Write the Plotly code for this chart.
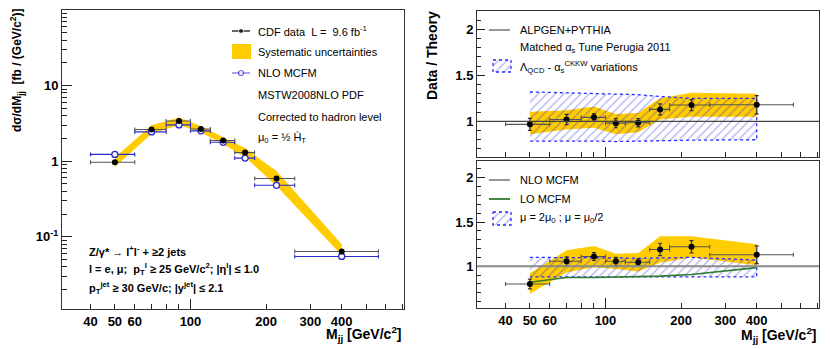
import math
import plotly.graph_objects as go

# Mjj bins [GeV/c^2]
mjj = [50, 70, 90, 110, 135, 165, 220, 400]
bin_lo = [40, 60, 80, 100, 120, 150, 180, 260]
bin_hi = [60, 80, 100, 120, 150, 180, 260, 560]

# dsigma/dMjj [fb/(GeV/c^2)]
xs_data = [0.97, 2.63, 3.41, 2.67, 1.88, 1.30, 0.59, 0.064]
xs_stat = [0.03, 0.06, 0.07, 0.06, 0.04, 0.03, 0.015, 0.003]
xs_syst_lo = [0.84, 2.30, 3.02, 2.42, 1.68, 1.14, 0.47, 0.057]
xs_syst_hi = [1.12, 2.98, 3.80, 2.92, 2.08, 1.49, 0.74, 0.080]
xs_mcfm = [1.23, 2.44, 3.02, 2.52, 1.78, 1.10, 0.48, 0.055]

# data / ALPGEN+PYTHIA
r_alp = [0.967, 1.02, 1.043, 0.98, 0.985, 1.13, 1.177, 1.18]
r_alp_err = [0.065, 0.055, 0.04, 0.05, 0.045, 0.06, 0.06, 0.10]
r_alp_syst_lo = [0.86, 0.91, 0.93, 0.86, 0.88, 1.02, 1.05, 1.05]
r_alp_syst_hi = [1.105, 1.12, 1.16, 1.08, 1.09, 1.25, 1.31, 1.30]
alp_var_lo = [0.785, 0.785, 0.785, 0.78, 0.785, 0.79, 0.795, 0.80]
alp_var_hi = [1.32, 1.31, 1.30, 1.30, 1.29, 1.27, 1.25, 1.25]

# data / NLO MCFM
r_nlo = [0.80, 1.056, 1.11, 1.056, 1.045, 1.19, 1.22, 1.13]
r_nlo_err = [0.055, 0.05, 0.045, 0.045, 0.04, 0.07, 0.07, 0.10]
r_nlo_syst_lo = [0.69, 0.93, 0.99, 0.97, 0.94, 1.04, 1.10, 1.01]
r_nlo_syst_hi = [0.92, 1.18, 1.23, 1.14, 1.15, 1.34, 1.34, 1.25]
scale_lo = [0.88, 0.88, 0.88, 0.88, 0.88, 0.88, 0.88, 0.88]
scale_hi = [1.10, 1.10, 1.10, 1.095, 1.09, 1.095, 1.10, 1.07]
lo_mcfm = [0.82, 0.873, 0.873, 0.876, 0.88, 0.888, 0.906, 0.985]

# the page body has an 8px margin, so the figure is sized to fit the 830x349 window
OFF = 8
W, H = 830 - OFF, 349 - OFF
FONT = "Liberation Sans"
YELLOW = "#ffcc00"
HATCH = dict(shape="/", fgcolor="rgba(30,30,230,0.35)", bgcolor="rgba(0,0,0,0)", size=6, solidity=0.22)
HATCH_LINE = dict(color="#2a2aff", width=1.3, dash="dot")

ex_plus = [h - m for h, m in zip(bin_hi, mjj)]
ex_minus = [m - l for m, l in zip(mjj, bin_lo)]


# positions below are given in window pixels
def px(x):
    return (x - OFF) / W


def py(y):
    return 1 - (y - OFF) / H


def band(lo, hi, xa, ya, **kw):
    return go.Scatter(x=mjj + mjj[::-1], y=hi + lo[::-1], xaxis=xa, yaxis=ya,
                      mode="lines", fill="toself", hoverinfo="skip", showlegend=False, **kw)


def ratio_pts(r, err, xa, ya):
    return go.Scatter(x=mjj, y=r, xaxis=xa, yaxis=ya, mode="markers", showlegend=False,
                      marker=dict(color="black", size=6),
                      error_x=dict(type="data", symmetric=False, array=ex_plus, arrayminus=ex_minus,
                                   color="#555", thickness=1.1, width=2),
                      error_y=dict(type="data", array=err, color="#333", thickness=1.2, width=2))


fig = go.Figure()

# ---- left: cross section
fig.add_trace(band(xs_syst_lo, xs_syst_hi, "x", "y", fillcolor=YELLOW, line=dict(width=0)))
fig.add_trace(go.Scatter(x=mjj, y=xs_mcfm, mode="markers", showlegend=False,
                         marker=dict(color="white", size=6, line=dict(color="#2a2acc", width=1.3)),
                         error_x=dict(type="data", symmetric=False, array=ex_plus, arrayminus=ex_minus,
                                      color="#2a2acc", thickness=1.1, width=2)))
fig.add_trace(go.Scatter(x=mjj, y=xs_data, mode="markers", showlegend=False,
                         marker=dict(color="black", size=6),
                         error_x=dict(type="data", symmetric=False, array=ex_plus, arrayminus=ex_minus,
                                      color="#555", thickness=1.1, width=2),
                         error_y=dict(type="data", array=xs_stat, color="#222", thickness=1.2, width=0)))

# ---- top right: data / ALPGEN
fig.add_trace(band(r_alp_syst_lo, r_alp_syst_hi, "x2", "y2", fillcolor=YELLOW, line=dict(width=0)))
fig.add_trace(band(alp_var_lo, alp_var_hi, "x2", "y2", fillcolor="rgba(0,0,0,0)",
                   fillpattern=HATCH, line=HATCH_LINE))
fig.add_trace(ratio_pts(r_alp, r_alp_err, "x2", "y2"))

# ---- bottom right: data / NLO MCFM
fig.add_trace(band(r_nlo_syst_lo, r_nlo_syst_hi, "x3", "y3", fillcolor=YELLOW, line=dict(width=0)))
fig.add_trace(band(scale_lo, scale_hi, "x3", "y3", fillcolor="rgba(0,0,0,0)",
                   fillpattern=HATCH, line=HATCH_LINE))
fig.add_trace(go.Scatter(x=mjj, y=lo_mcfm, xaxis="x3", yaxis="y3", mode="lines", showlegend=False,
                         line=dict(color="#2e7d2e", width=1.6)))
fig.add_trace(ratio_pts(r_nlo, r_nlo_err, "x3", "y3"))

# invisible traces so the overlay tick axes get drawn
for xa, ya, yv in (("x4", "y", xs_data), ("x5", "y2", r_alp), ("x6", "y3", r_nlo)):
    fig.add_trace(go.Scatter(x=mjj, y=yv, xaxis=xa, yaxis=ya, mode="markers", hoverinfo="skip",
                             showlegend=False, marker=dict(opacity=0)))


# ---- legend keys, drawn in window pixels on a hidden full-page axis
def key_line(x0, x1, y, color, width=1.2, marker=None):
    fig.add_trace(go.Scatter(x=[x0, (x0 + x1) / 2, x1], y=[y, y, y], xaxis="x7", yaxis="y7",
                             mode="lines+markers" if marker else "lines", hoverinfo="skip",
                             showlegend=False, line=dict(color=color, width=width),
                             marker=marker if marker else dict(size=0)))


def key_box(x0, x1, y0, y1, **kw):
    fig.add_trace(go.Scatter(x=[x0, x1, x1, x0, x0], y=[y0, y0, y1, y1, y0], xaxis="x7", yaxis="y7",
                             mode="lines", fill="toself", hoverinfo="skip", showlegend=False, **kw))


key_line(232, 250, 31, "black", marker=dict(size=[0, 5, 0], color="black"))
key_box(232, 251, 44, 59, fillcolor=YELLOW, line=dict(width=0))
key_line(232, 250, 73, "#6a6ae0", marker=dict(size=[0, 5, 0], color="white", line=dict(color="#2a2acc", width=1.2)))
key_line(489, 510, 30, "#333", width=1)
key_box(493, 511, 60, 72, fillcolor="rgba(0,0,0,0)", fillpattern=HATCH, line=HATCH_LINE)
key_line(489, 510, 180, "#333", width=1)
key_line(489, 510, 199, "#2e7d2e", width=1.8)
key_box(493, 511, 212, 225, fillcolor="rgba(0,0,0,0)", fillpattern=HATCH, line=HATCH_LINE)

# ---- axes
tickfont = dict(family=FONT, size=13, color="black", weight="bold")
xrange = [math.log10(30.8), math.log10(708)]
xmajor = [40, 50, 60, 100, 200, 300, 400]
xminor = [70, 80, 90, 500, 600, 700]
frame = dict(showline=True, mirror=True, linecolor="#333", linewidth=1, showgrid=False,
             zeroline=False, automargin=False)


def xaxis_cfg(domain, anchor, labels):
    return dict(type="log", range=xrange, domain=domain, anchor=anchor, tickmode="array",
                tickvals=xmajor, ticktext=[str(v) for v in xmajor], showticklabels=labels,
                ticks="inside", ticklen=5, tickcolor="#222", tickfont=tickfont,
                minor=dict(tickmode="array", tickvals=xminor, ticks="inside", ticklen=5, tickcolor="#222"),
                **frame)


def xlong_cfg(over, anchor):
    return dict(type="log", range=xrange, overlaying=over, anchor=anchor, side="bottom",
                tickmode="array", tickvals=[100], ticks="inside", ticklen=10, tickcolor="#222",
                showticklabels=False, showgrid=False, zeroline=False, showline=False, automargin=False)


def ratio_y(domain, anchor, yr):
    return dict(range=yr, domain=domain, anchor=anchor, tick0=0, dtick=0.5, ticks="inside",
                ticklen=8, tickcolor="#222", tickfont=tickfont,
                minor=dict(dtick=0.1, tick0=0, ticks="inside", ticklen=4, tickcolor="#222"), **frame)


ylog_minor = [k * 10 ** d for d in range(-2, 2) for k in range(2, 10)]

dom_l = [px(62), px(404)]
dom_r = [px(477), px(819)]

fig.update_layout(
    template="none",
    width=W, height=H,
    margin=dict(l=0, r=0, t=0, b=0, pad=0),
    paper_bgcolor="white", plot_bgcolor="rgba(0,0,0,0)",
    showlegend=False,
    font=dict(family=FONT, size=11, color="black"),
    xaxis=xaxis_cfg(dom_l, "y", True),
    yaxis=dict(type="log", range=[math.log10(0.0111), 2], domain=[py(309), py(10)], anchor="x",
               tickmode="array", tickvals=[0.1, 1, 10, 100],
               ticktext=["10<sup>-1</sup>", "1", "10", "10<sup>2</sup>"],
               ticks="inside", ticklen=10, tickcolor="#222", tickfont=tickfont,
               minor=dict(tickmode="array", tickvals=ylog_minor, ticks="inside", ticklen=5, tickcolor="#222"),
               **frame),
    xaxis2=xaxis_cfg(dom_r, "y2", False),
    yaxis2=ratio_y([py(157), py(11)], "x2", [0.612, 2.2]),
    xaxis3=xaxis_cfg(dom_r, "y3", True),
    yaxis3=ratio_y([py(308), py(161)], "x3", [0.528, 2.19]),
    xaxis4=xlong_cfg("x", "y"),
    xaxis5=xlong_cfg("x2", "y2"),
    xaxis6=xlong_cfg("x3", "y3"),
    xaxis7=dict(domain=[0, 1], range=[OFF, OFF + W], anchor="y7", visible=False, fixedrange=True, automargin=False),
    yaxis7=dict(domain=[0, 1], range=[OFF + H, OFF], anchor="x7", visible=False, fixedrange=True, automargin=False),
)

# reference lines at ratio = 1
fig.add_shape(type="line", xref="x2 domain", x0=0, x1=1, yref="y2", y0=1, y1=1,
              line=dict(color="#444", width=1.1), layer="above")
fig.add_shape(type="line", xref="x3 domain", x0=0, x1=1, yref="y3", y0=1, y1=1,
              line=dict(color="#8a8a8a", width=1.8), layer="above")

# ---- texts
bold14 = dict(family=FONT, size=14, color="black", weight="bold")
bold12 = dict(family=FONT, size=12, color="black", weight="bold")
reg11 = dict(family=FONT, size=11, color="black")
bold11 = dict(family=FONT, size=11, color="black", weight="bold")


def note(x, y, text, font=reg11, xanchor="left", yanchor="middle", angle=0):
    fig.add_annotation(x=px(x), y=py(y), xref="paper", yref="paper", text=text, showarrow=False,
                       xanchor=xanchor, yanchor=yanchor, font=font, textangle=angle)


note(17, 70, "dσ/dM<sub>jj</sub>  [fb / (GeV/c<sup>2</sup>)]", bold12, xanchor="center", yanchor="middle", angle=-90)
note(432, 56, "Data / Theory", bold14, xanchor="center", yanchor="middle", angle=-90)
note(404, 334, "M<sub>jj</sub> [GeV/c<sup>2</sup>]", bold14, xanchor="right")
note(819, 335, "M<sub>jj</sub> [GeV/c<sup>2</sup>]", bold14, xanchor="right")

note(256, 31, "CDF data  L =  9.6 fb<sup>-1</sup>")
note(256, 52, "Systematic uncertainties")
note(256, 73, "NLO MCFM")
note(256, 95, "MSTW2008NLO PDF")
note(256, 117, "Corrected to hadron level")
note(256, 138, "μ<sub>0</sub> = ½ Ĥ<sub>T</sub>")

note(87, 251, "Z/γ* → l<sup>+</sup>l<sup>-</sup> + ≥2 jets", bold11)
note(87, 269, "l = e, μ;  p<sub>T</sub><sup>l</sup> ≥ 25 GeV/c<sup>2</sup>; |η<sup>l</sup>| ≤ 1.0", bold11)
note(87, 288, "p<sub>T</sub><sup>jet</sup> ≥ 30 GeV/c; |y<sup>jet</sup>| ≤ 2.1", bold11)

note(518, 30, "ALPGEN+PYTHIA")
note(518, 48, "Matched α<sub>s</sub> Tune Perugia 2011")
note(518, 67, "Λ<sub>QCD</sub> - α<sub>s</sub><sup>CKKW</sup> variations")
note(518, 180, "NLO MCFM")
note(518, 199, "LO MCFM")
note(518, 218, "μ = 2μ<sub>0</sub> ; μ = μ<sub>0</sub>/2")

fig.write_html("out.html")
